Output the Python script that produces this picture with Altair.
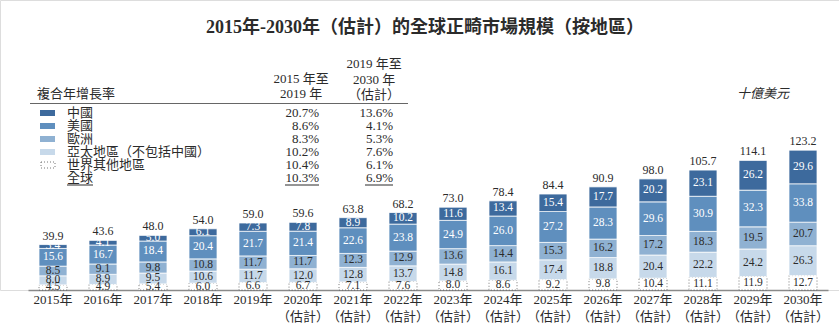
import altair as alt
import pandas as pd

# ---------------- data ----------------
years = [str(y) for y in range(2015, 2031)]
china = [3.4, 4.1, 5.0, 6.1, 7.3, 7.8, 8.9, 10.2, 11.6, 13.4, 15.4, 17.7, 20.2, 23.1, 26.2, 29.6]
usa = [15.6, 16.7, 18.4, 20.4, 21.7, 21.4, 22.6, 23.8, 24.9, 26.0, 27.2, 28.3, 29.6, 30.9, 32.3, 33.8]
europe = [8.5, 9.1, 9.8, 10.8, 11.7, 11.7, 12.3, 12.9, 13.6, 14.4, 15.3, 16.2, 17.2, 18.3, 19.5, 20.7]
apac = [8.0, 8.9, 9.5, 10.6, 11.7, 12.0, 12.8, 13.7, 14.8, 16.1, 17.4, 18.8, 20.4, 22.2, 24.2, 26.3]
rest = [4.5, 4.9, 5.4, 6.0, 6.6, 6.7, 7.1, 7.6, 8.0, 8.6, 9.2, 9.8, 10.4, 11.1, 11.9, 12.7]
totals = [39.9, 43.6, 48.0, 54.0, 59.0, 59.6, 63.8, 68.2, 73.0, 78.4, 84.4, 90.9, 98.0, 105.7, 114.1, 123.2]

regions = ["中國", "美國", "歐洲", "亞太地區（不包括中國）", "世界其他地區"]
cagr_2015_2019 = ["20.7%", "8.6%", "8.3%", "10.2%", "10.4%"]
cagr_2019_2030 = ["13.6%", "4.1%", "5.3%", "7.6%", "6.1%"]
global_label = "全球"
global_cagr = ["10.3%", "6.9%"]

# stacking order bottom -> top
stack_series = [("世界其他地區", rest), ("亞太地區（不包括中國）", apac), ("歐洲", europe),
                ("美國", usa), ("中國", china)]
fill_colors = {"中國": "#3d6a9d", "美國": "#5f8fbe", "歐洲": "#8fb1d2",
               "亞太地區（不包括中國）": "#c7d9ea", "世界其他地區": "#ffffff"}

records = []
for i, yr in enumerate(years):
    for k, (name, vals) in enumerate(stack_series):
        records.append({"year": yr, "region": name, "value": vals[i], "order": k})
df = pd.DataFrame(records)
tot_df = pd.DataFrame({"year": years, "total": totals})

FONT = "'Liberation Serif', 'Noto Sans CJK TC'"
TXT = "#2b2b2b"

xenc = alt.X(
    "year:O", sort=years,
    scale=alt.Scale(range=[28, 828], paddingInner=0.44, paddingOuter=0.22),
    axis=alt.Axis(
        title=None, labelAngle=0, ticks=False, domainColor="#8a8a8a", domainWidth=1.5,
        labelFont=FONT, labelFontSize=13, labelColor=TXT, labelPadding=3,
        labelLineHeight=17,
        labelExpr="toNumber(datum.value) >= 2020 ? [datum.value + '年', '（估計）'] : datum.value + '年'",
    ),
)
yscale = alt.Scale(domain=[0, 255.3], nice=False, zero=True)

base = alt.Chart(df).transform_stack(
    stack="value", groupby=["year"], sort=[alt.SortField("order", "ascending")], as_=["y0", "y1"]
)

is_rest = alt.datum.region == "世界其他地區"

bars = base.mark_bar(strokeWidth=0.8).encode(
    x=xenc,
    y=alt.Y("y0:Q", scale=yscale, axis=None),
    y2="y1:Q",
    color=alt.Color("region:N",
                    scale=alt.Scale(domain=list(fill_colors.keys()), range=list(fill_colors.values())),
                    legend=None),
    stroke=alt.condition(is_rest, alt.value("#555555"), alt.value("#ffffff")),
    strokeDash=alt.condition(is_rest, alt.value([1, 2]), alt.value([1, 0])),
)

seg_labels = base.transform_calculate(mid="(datum.y0 + datum.y1) / 2").mark_text(
    font=FONT, fontSize=11.5, baseline="middle"
).encode(
    x=xenc,
    y=alt.Y("mid:Q", scale=yscale, axis=None),
    text=alt.Text("value:Q", format=".1f"),
    color=alt.condition("datum.order >= 3", alt.value("#ffffff"), alt.value(TXT)),
)

tot_labels = alt.Chart(tot_df).mark_text(
    font=FONT, fontSize=12, baseline="alphabetic", dy=-5, color=TXT
).encode(
    x=xenc,
    y=alt.Y("total:Q", scale=yscale, axis=None),
    text=alt.Text("total:Q", format=".1f"),
)


def txt(s, x, y, size=13, align="left", bold=False, italic=False, color=TXT):
    kw = dict(x=x, y=y, fontSize=size, align=align, baseline="middle", font=FONT, color=color)
    if bold:
        kw["fontWeight"] = "bold"
    if italic:
        kw["fontStyle"] = "italic"
    return alt.Chart(pd.DataFrame({"t": [s]})).mark_text(**kw).encode(text="t:N")


def rule(x1, x2, y, color=TXT, w=1.0):
    return alt.Chart(pd.DataFrame({"a": [0]})).mark_rule(color=color, strokeWidth=w).encode(
        x=alt.value(x1), x2=alt.value(x2), y=alt.value(y))


def rect(x1, x2, y1, y2, fill, stroke=None, dash=None):
    kw = dict(fill=fill)
    if stroke:
        kw["stroke"] = stroke
        kw["strokeWidth"] = 1
    if dash:
        kw["strokeDash"] = dash
    return alt.Chart(pd.DataFrame({"a": [0]})).mark_rect(**kw).encode(
        x=alt.value(x1), x2=alt.value(x2), y=alt.value(y1), y2=alt.value(y2))


layers = [bars, seg_labels, tot_labels]

# title
layers.append(txt("2015年-2030年（估計）的全球正畸市場規模（按地區）", 425, 28, size=18, align="center", bold=True))
# unit
layers.append(txt("十億美元", 763, 94, size=13, align="center", italic=True))

# CAGR table header
layers.append(txt("複合年增長率", 37, 94))
layers.append(txt("2015 年至", 301, 79, align="center"))
layers.append(txt("2019 年", 301, 94, align="center"))
layers.append(txt("2019 年至", 374, 64, align="center"))
layers.append(txt("2030 年", 374, 80, align="center"))
layers.append(txt("（估計）", 374, 95, align="center"))
layers.append(rule(30, 408, 103.5, color="#666666"))

row_y = [113, 126, 139, 152, 165, 178]
for i, name in enumerate(regions):
    yy = row_y[i]
    if name == "世界其他地區":
        layers.append(rect(41, 55, yy - 3, yy + 3, "#ffffff", stroke="#777777", dash=[1, 2]))
    else:
        layers.append(rect(40, 55, yy - 3, yy + 3, fill_colors[name]))
    layers.append(txt(name, 67, yy))
    layers.append(txt(cagr_2015_2019[i], 319, yy, align="right"))
    layers.append(txt(cagr_2019_2030[i], 393, yy, align="right"))

gy = row_y[5]
layers.append(txt(global_label, 67, gy))
layers.append(txt(global_cagr[0], 319, gy, align="right"))
layers.append(txt(global_cagr[1], 393, gy, align="right"))
layers.append(rule(67, 93, gy + 7))
layers.append(rule(285, 319, gy + 7))
layers.append(rule(365, 393, gy + 7))

chart = alt.layer(*layers).properties(
    width=839, height=290,
    autosize=alt.AutoSizeParams(type="none"),
    padding={"left": 0, "top": 0, "right": 0, "bottom": 45},
).configure_view(stroke=None).configure(background="white")

chart.save("out.html", embed_options={"renderer": "svg", "actions": False})
